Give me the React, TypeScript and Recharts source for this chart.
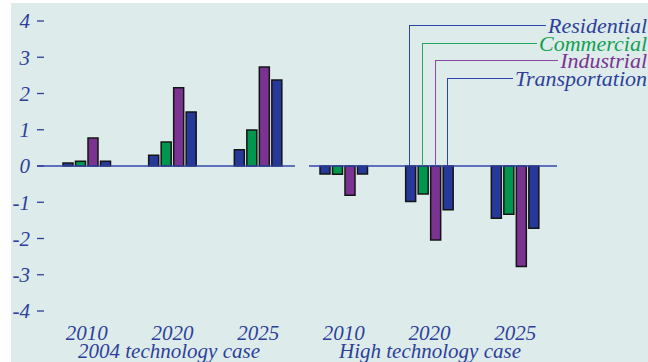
import { BarChart, Bar, XAxis, YAxis, ReferenceLine } from 'recharts'

// categories: three years for each of the two technology cases
const groups = ['2010', '2020', '2025', '2010', '2020', '2025']
const cases = ['2004 technology case', 'High technology case']

const residential = [0.08, 0.3, 0.45, -0.22, -0.98, -1.44]
const commercial = [0.13, 0.66, 0.99, -0.23, -0.77, -1.33]
const industrial = [0.77, 2.16, 2.73, -0.81, -2.04, -2.77]
const transportation = [0.13, 1.49, 2.37, -0.22, -1.21, -1.72]

const yTicks = [-4, -3, -2, -1, 0, 1, 2, 3, 4]

const BG = '#ddeceb'
const TEXT = '#2e3f99'
const BLUE = '#26389a'
const GREEN = '#00964e'
const PURPLE = '#7a3391'
const FONT = '"Liberation Serif", "Times New Roman", serif'

const data = groups.map((year, i) => ({
  key: `g${i}`,
  year,
  residential: residential[i],
  commercial: commercial[i],
  industrial: industrial[i],
  transportation: transportation[i],
}))

const series = [
  { key: 'residential', name: 'Residential', color: BLUE, line: '#2f44a8', lx: 410, ly: 25, textColor: TEXT },
  { key: 'commercial', name: 'Commercial', color: GREEN, line: '#22a862', lx: 423, ly: 43, textColor: '#12a050' },
  { key: 'industrial', name: 'Industrial', color: PURPLE, line: '#8a48a3', lx: 435.5, ly: 60, textColor: PURPLE },
  { key: 'transportation', name: 'Transportation', color: BLUE, line: '#2f44a8', lx: 448, ly: 78, textColor: TEXT },
]

const textStyle = { fontFamily: FONT, fontStyle: 'italic' as const, fontSize: 21, fill: TEXT }

// zero line is split in two, one per case panel
const ZeroLine = (p: any) => (
  <g>
    <line x1={p.x1 - 7} x2={p.x1 + 251} y1={p.y1} y2={p.y1} stroke="#3347ab" strokeWidth={1.3} />
    <line x1={p.x1 + 265} x2={p.x2 - 1} y1={p.y1} y2={p.y1} stroke="#3347ab" strokeWidth={1.3} />
  </g>
)

export default function App() {
  return (
    <div style={{ position: 'absolute', left: 0, top: 0, width: 648, height: 362, overflow: 'hidden', background: '#fff' }}>
      <div style={{ position: 'absolute', left: 11, top: 3, width: 637, height: 359, background: BG }} />
      <div style={{ position: 'absolute', left: 0, top: 0 }}>
        <BarChart
          width={648}
          height={362}
          data={data}
          margin={{ top: 21, right: 90, bottom: 21, left: 0 }}
          barSize={10}
          barGap={2.5}
        >
          <XAxis
            dataKey="key"
            tickFormatter={(_v: any, i: number) => groups[i]}
            axisLine={false}
            tickLine={false}
            tickSize={0}
            tickMargin={14}
            tick={textStyle}
            interval={0}
            height={30}
          />
          <YAxis
            domain={[-4, 4]}
            ticks={yTicks}
            width={44}
            axisLine={false}
            tickLine={{ stroke: TEXT, strokeWidth: 1.3 }}
            tickSize={7}
            tickMargin={7}
            tick={textStyle}
            interval={0}
          />
          <ReferenceLine y={0} shape={ZeroLine} />
          {series.map((s) => (
            <Bar
              key={s.key}
              dataKey={s.key}
              fill={s.color}
              stroke="#141414"
              strokeWidth={1.5}
              isAnimationActive={false}
            />
          ))}
        </BarChart>
      </div>
      {/* leader-line legend */}
      {series.map((s) => (
        <div key={s.key}>
          <div
            style={{
              position: 'absolute',
              left: s.lx - 0.6,
              top: s.ly,
              width: 0,
              height: 166 - s.ly,
              borderLeft: `1.3px solid ${s.line}`,
            }}
          />
          <div
            style={{
              position: 'absolute',
              left: s.lx,
              top: s.ly - 8,
              width: 647 - s.lx,
              height: 17,
              display: 'flex',
              alignItems: 'center',
            }}
          >
            <div style={{ flex: 1, borderTop: `1.3px solid ${s.line}` }} />
            <span
              style={{
                fontFamily: FONT,
                fontStyle: 'italic',
                fontSize: 22,
                color: s.textColor,
                marginLeft: 2,
                lineHeight: '17px',
                whiteSpace: 'nowrap',
              }}
            >
              {s.name}
            </span>
          </div>
        </div>
      ))}
      {cases.map((c, i) => (
        <div
          key={c}
          style={{
            position: 'absolute',
            left: i === 0 ? 69 : 330,
            width: 200,
            top: 340,
            textAlign: 'center',
            fontFamily: FONT,
            fontStyle: 'italic',
            fontSize: 21,
            lineHeight: '22px',
            color: TEXT,
            whiteSpace: 'nowrap',
          }}
        >
          {c}
        </div>
      ))}
    </div>
  )
}
